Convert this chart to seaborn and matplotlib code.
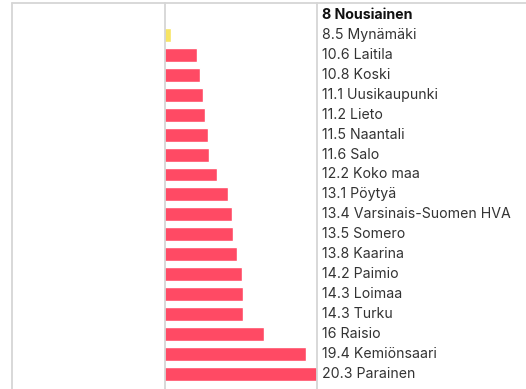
import matplotlib
matplotlib.use("Agg")
import matplotlib.pyplot as plt
from matplotlib.lines import Line2D
import seaborn as sns
import pandas as pd

areas = ["Nousiainen", "Mynämäki", "Laitila", "Koski", "Uusikaupunki", "Lieto",
         "Naantali", "Salo", "Koko maa", "Pöytyä", "Varsinais-Suomen HVA", "Somero",
         "Kaarina", "Paimio", "Loimaa", "Turku", "Raisio", "Kemiönsaari", "Parainen"]
values = [8, 8.5, 10.6, 10.8, 11.1, 11.2, 11.5, 11.6, 12.2, 13.1, 13.4, 13.5,
          13.8, 14.2, 14.3, 14.3, 16, 19.4, 20.3]
highlight = "Nousiainen"

RED = "#ff4a64"
YELLOW = "#f7e463"
GRID = "#d6d6d6"
TEXT = "#333333"

df = pd.DataFrame({"area": areas, "value": values})
colors = [YELLOW if i == 1 else RED for i in range(len(areas))]

sns.set_theme(style="white")
plt.rcParams["font.family"] = ["Inter", "DejaVu Sans"]

W, H = 526, 389
fig = plt.figure(figsize=(W / 100, H / 100), dpi=100)
x0, x1 = 165, 317
top = 3
ax = fig.add_axes([x0 / W, 0, (x1 - x0) / W, (H - top) / H])

sns.barplot(data=df, x="value", y="area", hue="area", palette=colors,
            legend=False, orient="h", width=0.7, ax=ax, saturation=1)

row_px = 19.94
n_rows = (H - top) / row_px
ax.set_xlim(8, 20.3)
ax.set_ylim(-0.6 + n_rows, -0.6)
ax.set_xlabel("")
ax.set_ylabel("")
ax.set_xticks([])
ax.set_yticks([])
for side in ["top", "bottom"]:
    ax.spines[side].set_visible(False)
for side in ["left", "right"]:
    ax.spines[side].set_color(GRID)
    ax.spines[side].set_linewidth(1.3)

for i, (name, v) in enumerate(zip(areas, values)):
    ax.text(1.0 + 5 / (x1 - x0), i, f"{v:g} {name}", transform=ax.get_yaxis_transform(),
            ha="left", va="center", fontsize=10.2, color="#111111" if name == highlight else TEXT,
            fontweight="bold" if name == highlight else "normal", clip_on=False)

# outer frame: top rule and left rule
fig.add_artist(Line2D([12 / W, 1], [1 - top / H, 1 - top / H], color=GRID, lw=1.3,
                      transform=fig.transFigure))
fig.add_artist(Line2D([12 / W, 12 / W], [0, 1 - top / H], color=GRID, lw=1.3,
                      transform=fig.transFigure))

fig.savefig("out.png", dpi=100, facecolor="white")
